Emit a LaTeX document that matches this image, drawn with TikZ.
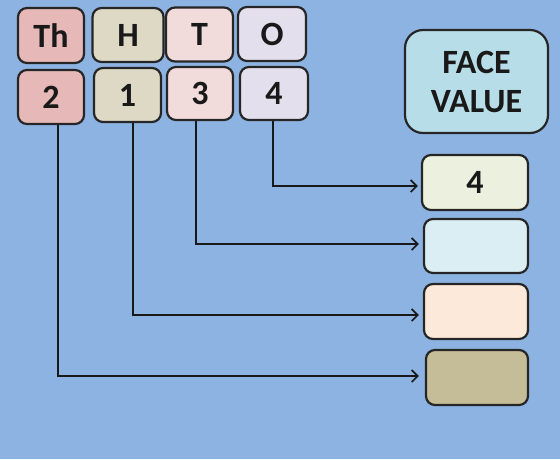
\documentclass[tikz,border=0pt]{standalone}
\usepackage{fontspec}
\setmainfont{Carlito}
\usetikzlibrary{arrows.meta}
\definecolor{bg}{HTML}{8DB3E2}
\definecolor{cTh}{HTML}{E6B8B7}
\definecolor{cH}{HTML}{DDD9C4}
\definecolor{cT}{HTML}{F2DCDB}
\definecolor{cO}{HTML}{E4DFEC}
\definecolor{cFace}{HTML}{B7DEE8}
\definecolor{cGreen}{HTML}{EBF1DE}
\definecolor{cBlue}{HTML}{DAEEF3}
\definecolor{cPeach}{HTML}{FDE9D9}
\definecolor{cTan}{HTML}{C4BD97}
\tikzset{
  box/.style={draw=black!85, line width=2.2pt, rounded corners=9pt, inner sep=0pt,
    font=\fontsize{34}{39}\selectfont\bfseries, text=black!90, align=center},
  arr/.style={line width=1.7pt, black!90, -{Straight Barb[length=6pt,width=12pt,line width=1.7pt]}}
}
\begin{document}
\begin{tikzpicture}[x=1pt,y=-1pt]
\fill[bg] (0,0) rectangle (560,459);
\useasboundingbox (0,0) rectangle (560,459);
% top row
\node[box, fill=cTh, minimum width=66, minimum height=55] (th) at (51,35.5) {Th};
\node[box, fill=cH, minimum width=71, minimum height=54] (h) at (128,35) {H};
\node[box, fill=cT, minimum width=67, minimum height=54] (t) at (199.5,34.5) {T};
\node[box, fill=cO, minimum width=68, minimum height=54] (o) at (272,34) {O};
% bottom row
\node[box, fill=cTh, minimum width=66, minimum height=54] (n2) at (51,97) {2};
\node[box, fill=cH, minimum width=67, minimum height=54] (n1) at (127.5,95) {1};
\node[box, fill=cT, minimum width=66, minimum height=53] (n3) at (200,93.5) {3};
\node[box, fill=cO, minimum width=68, minimum height=53] (n4) at (274,93.5) {4};
% right side
\node[box, fill=cFace, minimum width=143, minimum height=103, rounded corners=18pt] (face) at (476.5,81.5) {FACE\\VALUE};
\node[box, fill=cGreen, minimum width=106, minimum height=55] (fg) at (475,182.5) {4};
\node[box, fill=cBlue, minimum width=104, minimum height=54] (fb) at (476,246) {};
\node[box, fill=cPeach, minimum width=104, minimum height=55] (fp) at (476,311.5) {};
\node[box, fill=cTan, minimum width=102, minimum height=55] (ft) at (477,377.5) {};
% connectors
\draw[arr] ([xshift=-1pt]n4.south) |- ([xshift=-3pt,yshift=-3.5pt]fg.west);
\draw[arr] ([xshift=-4pt]n3.south) |- ([xshift=-4pt,yshift=2pt]fb.west);
\draw[arr] ([xshift=5.5pt]n1.south) |- ([xshift=-4pt,yshift=-3.5pt]fp.west);
\draw[arr] ([xshift=7pt]n2.south) |- ([xshift=-6pt,yshift=1.5pt]ft.west);
\end{tikzpicture}
\end{document}
